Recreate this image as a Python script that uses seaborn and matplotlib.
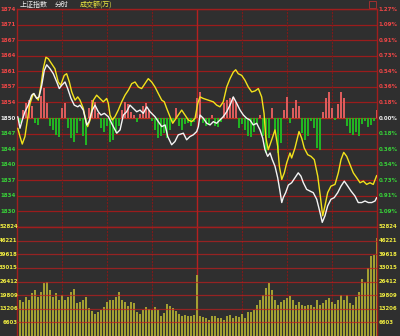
import numpy as np
import pandas as pd
import matplotlib
matplotlib.use('Agg')
import matplotlib.pyplot as plt
from matplotlib.patches import Rectangle
import seaborn as sns

# ---------------- data ----------------
PREV_CLOSE = 1850.5
STEP_PCT = 0.18182  # percent per grid step

price_labels = ['1874', '1871', '1867', '1864', '1861', '1857', '1854',
                '1850', '1847', '1844', '1840', '1837', '1834', '1830']
pct_labels = ['1.27%', '1.09%', '0.91%', '0.73%', '0.54%', '0.36%', '0.18%',
              '0.00%', '0.18%', '0.36%', '0.54%', '0.73%', '0.91%', '1.09%']
vol_labels = ['52824', '46221', '39618', '33015', '26412', '19809', '13206', '6603']
VOL_MAX = 52824

# index (white) line: minute, price
white_min = [0.5, 2, 3.5, 5.3, 7.5, 9.8, 11.3, 13.1, 14.7, 16.5, 18.2, 19.8, 22, 24.2, 26.5, 28.2,
             29.8, 32, 33.8, 36, 38.2, 40.5, 42, 44.2, 46.5, 48, 50.2, 52, 54.2, 56, 58.2, 60.9,
             62, 64.2, 66.5, 68.7, 70.9, 73.1, 75.3, 77.5, 79.8, 82, 84.2, 86.5, 88.7, 92, 94.2,
             96.5, 98.7, 100.5, 103.1, 105.3, 107.5, 110.9, 113.1, 115.3, 117.5, 119.8,
             120.9, 122, 124.2, 126.5, 128.7, 130.9, 133.1, 135.3, 137.5, 139.8, 142, 144.2,
             146.5, 148.7, 150.9, 153.1, 155.3, 157.5, 159.8, 162, 163.8, 165.3, 167.1, 168.7,
             170.2, 172, 173.8, 175.3, 176.5, 177.5, 179.1, 180.9,
             183.1, 185.3, 187.5, 189.3, 190.9, 193.1, 195.3, 197.5, 199.8, 202, 203.5, 205.3,
             207.1, 209.3, 211.5, 213.8, 216, 218.2, 220.5, 222.7, 225.3, 227.5, 229.8, 232,
             234.2, 236.5, 238.7, 239.8]
white_price = [1850.78, 1848.29, 1850.07, 1851.85, 1853.28, 1855.43, 1855.79, 1854.72, 1855.06, 1857.57,
               1860.78, 1862.00, 1861.15, 1860.07, 1858.28, 1856.86, 1857.57, 1858.28, 1856.86, 1854.72,
               1853.28, 1852.92, 1853.28, 1852.21, 1849.00, 1849.71, 1852.21, 1853.28, 1851.85, 1851.14,
               1851.51, 1850.78,
               1850.07, 1848.64, 1847.22, 1847.93, 1851.14, 1851.85, 1853.28, 1852.58, 1851.85, 1852.21,
               1851.51, 1852.92, 1851.85, 1850.78, 1849.71, 1848.64, 1849.00, 1846.49, 1844.72, 1845.42,
               1846.86, 1847.22, 1845.79, 1846.49, 1846.86, 1847.57,
               1848.64, 1851.14, 1850.44, 1849.36, 1849.00, 1849.71, 1849.36, 1850.07, 1850.78, 1851.85,
               1853.28, 1855.06, 1853.65, 1852.21, 1851.14, 1850.44, 1850.07, 1849.00, 1849.36, 1847.93,
               1846.15, 1843.65, 1842.21, 1842.94, 1841.50, 1840.07, 1837.58, 1834.71, 1832.23, 1833.30,
               1834.37, 1836.00,
               1836.51, 1837.58, 1838.65, 1837.93, 1836.51, 1835.08, 1834.71, 1834.37, 1832.94, 1830.09,
               1827.95, 1829.36, 1831.50, 1832.94, 1833.30, 1834.37, 1835.78, 1836.86, 1835.78, 1834.71,
               1833.64, 1832.23, 1832.23, 1832.57, 1832.23, 1832.23, 1832.57, 1833.30]

# unweighted (yellow) line: minute, price
yellow_min = [0.5, 2, 3.5, 5.3, 7.1, 8.7, 10.9, 12.5, 14.2, 16, 17.5, 19.3, 20.9, 23.1, 25.3, 27.5,
              29.1, 31.5, 33.1, 34.9, 36.5, 38.7, 40.5, 42, 44.2, 46, 47.1, 48.7, 50.9, 53.1,
              55.3, 57.5, 59.8, 60.9, 62, 63.5, 65.3, 67.5, 69.8, 72, 74.2, 76.5, 78.7, 80.9,
              83.1, 85.3, 87.5, 89.8, 92, 94.2, 96.5, 98.2, 99.8, 102, 103.8, 105.3, 107.5, 109.8,
              112, 114.2, 116.5, 118.7, 120.5, 122, 124.2, 127.5, 130.9, 133.1, 135.3, 137.5,
              139.8, 142, 144.2, 145.8, 147.5, 149.8, 152, 154.2, 156.5, 158.7, 160.9, 163.1,
              164.7, 165.8, 167.5, 169.8, 172, 173.8, 174.9, 176.5, 178.2, 179.8, 182, 183.1,
              185.3, 188, 189.8, 191.5, 193.8, 196, 198.2, 200.5, 202.2, 203.8, 205.3, 207.1,
              209.3, 212, 214.2, 216, 217.8, 219.8, 222, 224.2, 226.5, 228.7, 230.9, 233.1,
              235.3, 237.5, 239.8]
yellow_price = [1848.29, 1846.49, 1844.87, 1846.49, 1850.44, 1853.65, 1855.79, 1855.06, 1854.36, 1857.57,
                1861.15, 1863.63, 1863.29, 1862.22, 1861.15, 1858.28, 1857.57, 1859.71, 1860.07, 1858.28,
                1856.13, 1854.36, 1855.06, 1854.36, 1852.58, 1849.71, 1848.64, 1850.07, 1854.36, 1855.43,
                1854.72, 1853.99, 1854.72, 1853.65, 1851.14, 1850.07, 1850.78, 1852.21, 1853.99, 1855.43,
                1856.50, 1857.93, 1858.28, 1857.20, 1856.86, 1857.93, 1859.00, 1858.28, 1857.20, 1855.79,
                1854.36, 1853.99, 1852.58, 1850.78, 1849.36, 1850.07, 1851.14, 1852.21, 1851.14, 1850.07,
                1849.71, 1850.44, 1853.65, 1855.06, 1854.72, 1854.36, 1853.99, 1853.28, 1852.92, 1853.99,
                1857.20, 1859.00, 1860.42, 1860.93, 1860.07, 1859.71, 1858.64, 1857.20, 1856.13, 1856.35,
                1856.86, 1855.06, 1851.51, 1846.49, 1843.65, 1845.79, 1847.93, 1844.35, 1840.07, 1837.22,
                1838.65, 1840.80, 1842.94, 1841.86, 1844.01, 1847.57, 1846.15, 1844.01, 1842.57, 1842.21,
                1841.50, 1837.93, 1833.64, 1829.36, 1831.50, 1834.37, 1835.78, 1836.15, 1838.65, 1841.50,
                1843.07, 1842.21, 1840.43, 1838.65, 1837.58, 1836.51, 1836.86, 1836.15, 1836.51, 1836.15,
                1838.08]

# bar minutes (every 2 minutes)
bar_min = list(range(0, 241, 2))

# buy/sell power bars (index points relative to previous close)
power = [-0.65, -1.08, 1.73, 3.24, 3.89, 2.59, -1.08, -1.51, 4.75, 6.48,
         3.24, -1.73, -2.59, -3.67, -4.10, 2.16, 3.24, -2.16, -4.32, -5.18,
         -3.24, -0.65, -3.89, -5.83, 2.16, 3.89, 3.46, 1.08, -2.16, -3.02,
         -1.73, -5.18, -4.75, -3.24, -1.73, 1.73, 3.46, 3.02, 1.30, 0.65,
         -0.86, 0.86, 2.59, 3.24, 1.73, -0.65, -2.59, -4.32, -3.89, -3.24,
         -4.32, -2.59, -1.08, 2.16, -1.73, -2.59, -1.30, -1.08, -1.73, -0.86,
         4.32, 5.62, -1.08, -1.73, -1.51, 0.65, -1.73, -1.94, -0.86, 3.24,
         3.89, 4.32, 4.54, 3.46, -2.16, -1.30, -2.59, -3.89, -4.10, -3.02,
         -1.30, 0.65, -3.89, -7.56, -4.32, 2.16, -3.24, -7.56, -5.40, 1.73,
         4.54, -1.08, 2.16, 3.89, 2.59, -3.24, -4.75, -3.89, -0.65, -2.16,
         -6.48, -6.91, 1.30, 4.32, 5.62, 2.16, -0.43, 3.02, 5.62, 4.32,
         -1.73, -3.24, -3.67, -3.02, -3.89, -1.30, -0.65, -1.94, -1.51, -0.65,
         1.73]

# turnover (成交额, 万)
volume = [46040, 17450, 16480, 18900, 17450, 20840, 22290, 18900, 21320, 25680,
          26170, 22290, 18900, 20840, 17450, 19870, 17450, 18900, 21320, 22780,
          15990, 16480, 17450, 18900, 13570, 12120, 10660, 11630, 12600, 14050,
          16480, 17450, 17450, 18900, 21320, 17450, 16480, 14540, 16480, 15990,
          11630, 10660, 12600, 14050, 13080, 12600, 14050, 12600, 9690, 11150,
          15510, 14540, 13570, 12120, 10660, 9690, 10180, 9690, 9690, 10180,
          29560, 9690, 9210, 8720, 7750, 9690, 9690, 8720, 8720, 7750,
          9690, 10180, 8720, 9690, 9210, 10660, 8720, 11630, 11630, 12600,
          15020, 17450, 19870, 23260, 25680, 22290, 17450, 15020, 16480, 17450,
          18410, 19380, 17450, 15020, 16480, 15020, 14540, 15020, 15020, 14050,
          17450, 15020, 15990, 17450, 18410, 16480, 15510, 17450, 19870, 17450,
          19870, 15990, 15020, 18900, 21320, 27620, 26170, 32950, 38770, 39250,
          47490]

# ---------------- style ----------------
sns.set_theme(style='dark')
plt.rcParams['font.family'] = ['DejaVu Sans']

BG = '#2f2f2f'
GRID = '#9a1c1c'
RED_T = '#ee4646'
GREEN_T = '#38d038'
WHITE_T = '#eeeeee'
YEL_T = '#eeea40'

STEP = PREV_CLOSE * STEP_PCT / 100.0

fig = plt.figure(figsize=(4.0, 3.36), dpi=100, facecolor=BG)
ax = fig.add_axes([17 / 400, 1 - 227 / 336, 360 / 400, 218 / 336])
axv = fig.add_axes([17 / 400, 0, 360 / 400, 109 / 336])

for a in (ax, axv):
    a.set_facecolor(BG)
    a.set_xlim(0, 240)
    a.set_xticks([])
    a.set_yticks([])
    for s in a.spines.values():
        s.set_color('#a01e1e')
        s.set_linewidth(1.0)
    a.spines['bottom'].set_visible(False)

ax.set_ylim(PREV_CLOSE - 7 * STEP, PREV_CLOSE + 7 * STEP)
axv.set_ylim(0, VOL_MAX)

# horizontal grid in price panel
for i in range(-6, 8):
    ax.axhline(PREV_CLOSE + i * STEP, color=GRID if i != 0 else '#b8301e', lw=0.9, zorder=1)
ax.axhline(PREV_CLOSE - 7 * STEP, color='#b01e1e', lw=1.0, zorder=1)

# vertical grid
for a in (ax, axv):
    for m in [30, 60, 90, 150, 180, 210]:
        a.axvline(m, color='#7e1a1a', lw=0.8, ls=(0, (2, 1)), zorder=1)
    a.axvline(120, color='#b42020', lw=1.0, zorder=1)

# power bars
pw_colors = ['#dc5c5c' if v >= 0 else '#22b422' for v in power]
ax.bar(bar_min, power, bottom=PREV_CLOSE, width=1.6, color=pw_colors, linewidth=0, zorder=2)

# price lines
sns.lineplot(x=yellow_min, y=yellow_price, ax=ax, color='#f2e21c', lw=1.0,
             estimator=None, sort=False, zorder=4)
sns.lineplot(x=white_min, y=white_price, ax=ax, color='#f4f4f4', lw=1.0,
             estimator=None, sort=False, zorder=5)
ax.set_xlim(0, 240)
ax.set_ylim(PREV_CLOSE - 7 * STEP, PREV_CLOSE + 7 * STEP)
ax.set_xlabel('')
ax.set_ylabel('')

# volume bars
vdf = pd.DataFrame({'minute': bar_min, 'volume': volume})
sns.barplot(data=vdf, x='minute', y='volume', ax=axv, native_scale=True,
            color='#a3a032', saturation=1, errorbar=None, width=0.8,
            linewidth=0, zorder=2)
axv.set_xlim(0, 240)
axv.set_ylim(0, VOL_MAX)
axv.set_xticks([])
axv.set_yticks([])
axv.set_xlabel('')
axv.set_ylabel('')

for j in range(1, 8):
    axv.axhline(j * VOL_MAX / 8, color='#c01e1e', alpha=0.7, lw=0.9, zorder=3)

# axis labels
fs = 4.0
ytr = ax.get_yaxis_transform()
for idx, (pl, cl) in enumerate(zip(price_labels, pct_labels)):
    i = 7 - idx
    col = RED_T if i > 0 else (WHITE_T if i == 0 else GREEN_T)
    yv = PREV_CLOSE + i * STEP
    ax.text(-0.003, yv, pl, transform=ytr, ha='right', va='center', fontsize=fs,
            color=col, fontweight='bold', clip_on=False)
    ax.text(1.005, yv, cl, transform=ytr, ha='left', va='center', fontsize=fs,
            color=col, fontweight='bold', clip_on=False)

vtr = axv.get_yaxis_transform()
for idx, vl in enumerate(vol_labels):
    yv = VOL_MAX - idx * VOL_MAX / 8
    axv.text(0.002, yv, vl, transform=vtr, ha='right', va='center', fontsize=3.9,
             color=YEL_T, fontweight='bold', clip_on=False)
    axv.text(1.005, yv, vl, transform=vtr, ha='left', va='center', fontsize=3.9,
             color=YEL_T, fontweight='bold', clip_on=False)

# title
cjk = ['Noto Sans CJK SC', 'DejaVu Sans']
fig.text(20 / 400, 1 - 4.5 / 336, '上证指数', family=cjk, fontsize=5, color='#f0f0f0', va='center', ha='left')
fig.text(55 / 400, 1 - 4.5 / 336, '分时', family=cjk, fontsize=5, color='#f0f0f0', va='center', ha='left')
fig.text(80 / 400, 1 - 4.5 / 336, '成交额(万)', family=cjk, fontsize=5, color=YEL_T, va='center', ha='left')

# small box icon at top right
fig.add_artist(Rectangle((369 / 400, 1 - 8 / 336), 7 / 400, 7 / 336, transform=fig.transFigure,
                         fill=False, edgecolor='#a03030', lw=0.7))

fig.savefig('out.png', dpi=100, facecolor=BG)
